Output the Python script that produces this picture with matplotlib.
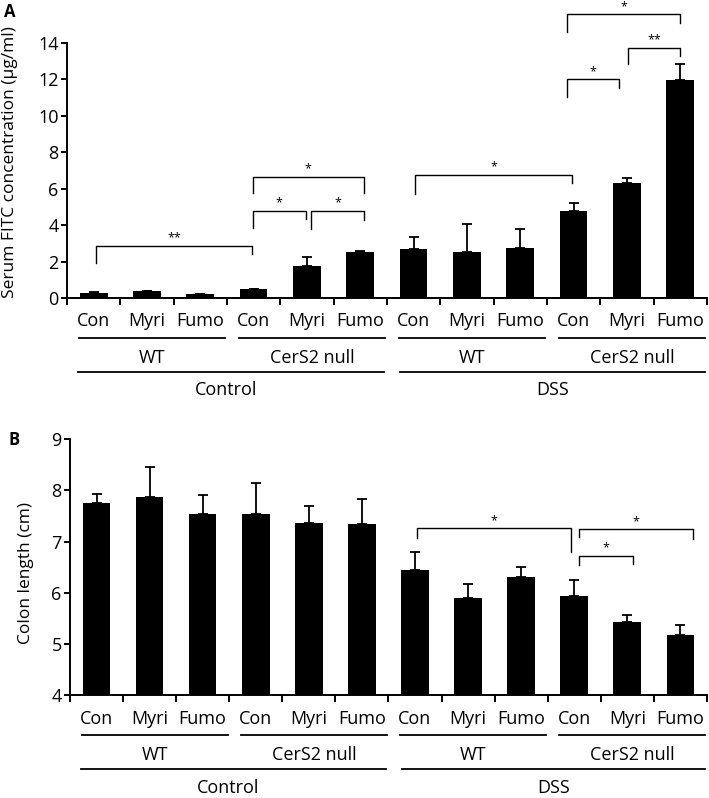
import matplotlib
matplotlib.use("Agg")
import matplotlib.pyplot as plt
import numpy as np

plt.rcParams['font.family'] = ['Open Sans', 'DejaVu Sans']

# treatment labels along x (12 bars)
treatments = ["Con", "Myri", "Fumo"] * 4
genotypes = ["WT", "CerS2 null", "WT", "CerS2 null"]
conditions = ["Control", "DSS"]

# Panel A: serum FITC (ug/ml), mean and upper SD
fitc = [0.27, 0.41, 0.23, 0.47, 1.76, 2.52, 2.67, 2.54, 2.76, 4.76, 6.33, 11.95]
fitc_err = [0.04, 0.0, 0.0, 0.0, 0.48, 0.05, 0.70, 1.54, 1.03, 0.48, 0.25, 0.88]

# Panel B: colon length (cm)
colon = [7.75, 7.87, 7.54, 7.54, 7.37, 7.34, 6.44, 5.90, 6.30, 5.94, 5.43, 5.17]
colon_err = [0.19, 0.59, 0.37, 0.61, 0.33, 0.49, 0.35, 0.28, 0.21, 0.30, 0.14, 0.19]

# significance brackets: (x_left, x_right, y, left leg bottom, right leg bottom, label)
brackets_a = [
    (0.04, 2.97, 2.86, 1.94, 2.42, "**"),
    (2.98, 3.98, 4.80, 3.86, 4.32, "*"),
    (4.08, 5.07, 4.80, 3.77, 4.28, "*"),
    (2.98, 5.07, 6.66, 5.75, 5.75, "*"),
    (6.03, 8.97, 6.76, 5.71, 6.30, "*"),
    (8.88, 9.85, 12.0, 11.06, 11.52, "*"),
    (10.02, 11.0, 13.75, 12.84, 13.26, "**"),
    (8.88, 11.0, 15.57, 14.63, 15.09, "*"),
]
brackets_b = [
    (6.04, 8.94, 7.26, 7.07, 6.80, "*"),
    (9.10, 11.24, 7.24, 7.09, 7.05, "*"),
    (9.10, 10.10, 6.72, 6.54, 6.56, "*"),
]

fig = plt.figure(figsize=(7.09, 7.98), dpi=100)
axA = fig.add_axes([0.0945, 0.6266, 0.9025, 0.3195])
axB = fig.add_axes([0.0987, 0.129, 0.8983, 0.3205])


def draw_panel(ax, vals, errs, ylim, yticks, ylabel, brackets, label_xy):
    x = np.arange(len(vals))
    ax.bar(x, np.array(vals) - ylim[0], bottom=ylim[0], width=0.52,
           color="black", zorder=2)
    ax.errorbar(x, vals, yerr=[np.zeros(len(errs)), errs], fmt="none",
                ecolor="black", elinewidth=1.3, capsize=3.6, capthick=1.3,
                zorder=1)
    ax.set_xlim(-0.5, len(vals) - 0.5)
    ax.set_ylim(*ylim)
    ax.set_yticks(yticks)
    ax.set_xticks(np.arange(-0.5, len(vals), 1.0))
    ax.set_xticklabels([])
    for s in ["top", "right"]:
        ax.spines[s].set_visible(False)
    for s in ["left", "bottom"]:
        ax.spines[s].set_linewidth(1.4)
    ax.tick_params(axis="y", direction="out", length=4, width=1.4,
                   labelsize=13, pad=2)
    ax.tick_params(axis="x", direction="out", length=5, width=1.4)
    ax.set_ylabel(ylabel, fontsize=12.5)
    ax.yaxis.set_label_coords(*label_xy)

    tr = ax.get_xaxis_transform()
    # treatment labels
    for i, t in enumerate(treatments):
        ax.text(i, -0.092, t, transform=tr, ha="center", va="center",
                fontsize=13)
    # genotype rows
    for g, name in enumerate(genotypes):
        x0, x1 = g * 3 - 0.28, g * 3 + 2.47
        ax.plot([x0, x1], [-0.156, -0.156], transform=tr, color="black",
                lw=1.3, clip_on=False)
        ax.text((x0 + x1) / 2, -0.234, name, transform=tr, ha="center",
                va="center", fontsize=13)
    # condition rows
    for c, name in enumerate(conditions):
        x0, x1 = c * 6 - 0.29 + c * 0.04, c * 6 + 5.45 + c * 0.01
        ax.plot([x0, x1], [-0.29, -0.29], transform=tr, color="black",
                lw=1.3, clip_on=False)
        ax.text((x0 + x1) / 2 - 0.1 * (1 - c), -0.362, name, transform=tr,
                ha="center", va="center", fontsize=13)

    for xl, xr, y, yl, yr, lab in brackets:
        ax.plot([xl, xl, xr, xr], [yl, y, y, yr], color="black", lw=1.0,
                clip_on=False)
        ax.annotate(lab, ((xl + xr) / 2, y), xytext=(0, 1),
                    textcoords="offset points", ha="center", va="bottom",
                    fontsize=9, annotation_clip=False)


draw_panel(axA, fitc, fitc_err, (0, 14), range(0, 15, 2),
           "Serum FITC concentration (\u00b5g/ml)", brackets_a, (-0.077, 0.535))
draw_panel(axB, colon, colon_err, (4, 9), range(4, 10),
           "Colon length (cm)", brackets_b, (-0.057, 0.479))

fig.text(0.006, 0.985, "A", fontsize=12, fontweight="bold", va="center")
fig.text(0.012, 0.449, "B", fontsize=12, fontweight="bold", va="center")

fig.savefig("out.png", dpi=100)
